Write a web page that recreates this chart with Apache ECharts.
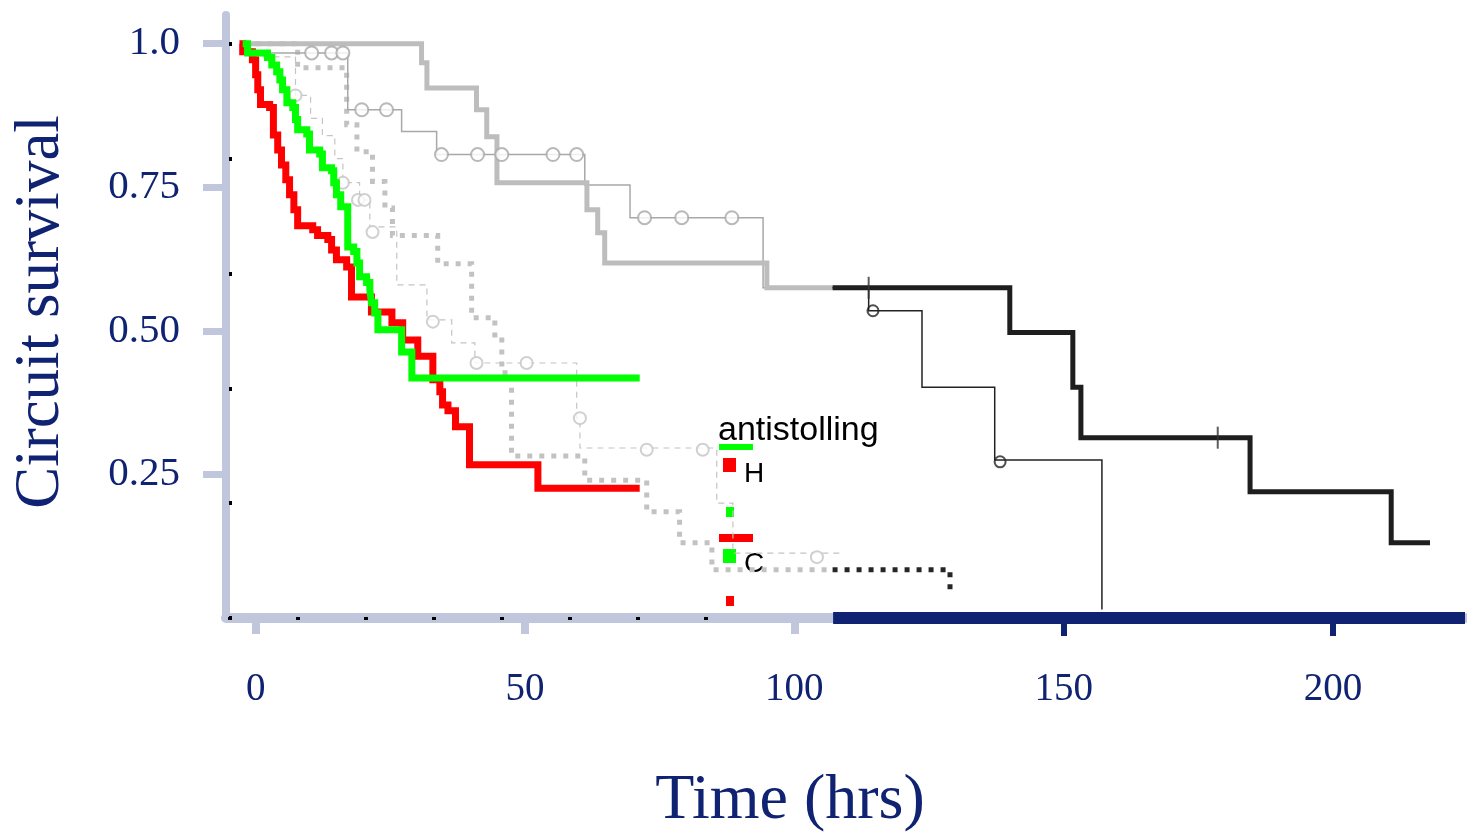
<!DOCTYPE html>
<html>
<head>
<meta charset="utf-8">
<script src="https://cdn.jsdelivr.net/npm/echarts@6.0.0/dist/echarts.min.js"></script>
<style>
  html, body { margin: 0; padding: 0; background: #fff; }
  #chart { width: 1467px; height: 834px; }
</style>
</head>
<body>
<div id="chart"></div>
<script>
// ticks
var xTickValues = [0, 50, 100, 150, 200];
var xLightTicks = [0, 50, 100];
var xNavyTicks = [150, 200];
var xBlackTicks = [-4.8, 7.8, 20.4, 33.1, 45.7, 58.3, 70.9, 83.6];
var yTickValues = [0.25, 0.5, 0.75, 1.0];
var yTickLabels = ['0.25', '0.50', '0.75', '1.0'];
var yBlackTicks = [0, 0.2, 0.4, 0.6, 0.8, 1.0];

// survival curves: [time (hrs), survival]
var red = [[-3, 1.0], [-2.4, 0.986], [-0.6, 0.972], [0, 0.946], [0.4, 0.92], [0.9, 0.894], [2.6, 0.889],
  [3.3, 0.841], [4.1, 0.815], [4.8, 0.789], [5.6, 0.763], [6.3, 0.737], [7.1, 0.711], [7.8, 0.683],
  [10.6, 0.676], [11.5, 0.666], [13.4, 0.659], [14.1, 0.641], [15, 0.624], [16.9, 0.611], [17.8, 0.559],
  [21.5, 0.533], [25.3, 0.514], [27.3, 0.484], [30.1, 0.456], [32.9, 0.415], [34.2, 0.394], [34.7, 0.371],
  [35.7, 0.361], [37.1, 0.333], [39.7, 0.267], [52.4, 0.226], [71.3, 0.226]];
var green = [[-2.4, 1.0], [-1.5, 0.984], [2.2, 0.976], [3.0, 0.963], [3.9, 0.951], [4.5, 0.937], [5.0, 0.92],
  [5.8, 0.897], [6.9, 0.889], [7.4, 0.868], [7.8, 0.85], [9.5, 0.843], [10.0, 0.815], [11.9, 0.808],
  [12.4, 0.784], [14.1, 0.779], [14.5, 0.758], [15.0, 0.737], [15.8, 0.716], [17.1, 0.646], [18.2, 0.638],
  [18.8, 0.618], [19.3, 0.594], [20.6, 0.584], [21.2, 0.571], [21.5, 0.549], [22.1, 0.531], [22.7, 0.502],
  [27.1, 0.463], [29.0, 0.418], [71.3, 0.418]];
var grayThick = [[-2.4, 1.0], [30.8, 0.967], [31.8, 0.923], [41.0, 0.885], [42.9, 0.838], [44.8, 0.758],
  [61.5, 0.711], [63.5, 0.671], [64.8, 0.618], [94.9, 0.575], [107.1, 0.575]];
var blackThick = [[107.1, 0.575], [140.0, 0.497], [151.7, 0.402], [153.2, 0.314], [184.6, 0.22],
  [210.8, 0.131], [218.0, 0.131]];
var grayThin = [[-2.4, 1.0], [-1.5, 0.984], [17.1, 0.885], [27.1, 0.847], [33.6, 0.807], [61.1, 0.754],
  [69.5, 0.697], [94.2, 0.575], [107.1, 0.575]];
var blackThin = [[107.1, 0.575], [113.8, 0.535], [123.7, 0.402], [137.2, 0.275], [157.1, 0.015]];
var grayDotted = [[0, 1.0], [7.8, 0.958], [16.9, 0.859], [18.8, 0.812], [21.7, 0.76], [24.0, 0.714],
  [25.4, 0.666], [33.8, 0.617], [40.1, 0.523], [44.4, 0.484], [45.7, 0.427], [47.5, 0.282], [61.1, 0.24],
  [72.6, 0.185], [78.7, 0.131], [84.7, 0.084], [107.1, 0.084]];
var blackDotted = [[107.1, 0.084], [128.9, 0.04]];
var grayDashed = [[-2.4, 1.0], [-1.1, 0.977], [7.4, 0.91], [10.2, 0.87], [12.4, 0.84], [14.7, 0.8],
  [16.2, 0.758], [19.3, 0.728], [21.2, 0.681], [26.2, 0.58], [31.8, 0.519], [36.4, 0.479], [40.7, 0.444],
  [59.6, 0.348], [60.2, 0.296], [85.6, 0.2], [88.6, 0.113], [108.4, 0.113]];

// censored marks
var grayThinCensor = [[10.4, 0.984], [14.1, 0.984], [16.2, 0.984], [19.7, 0.885], [24.3, 0.885],
  [34.5, 0.807], [41.2, 0.807], [45.7, 0.807], [55.2, 0.807], [59.6, 0.807],
  [72.2, 0.697], [79.1, 0.697], [88.4, 0.697]];
var grayDashedCensor = [[7.4, 0.91], [16.2, 0.758], [19.0, 0.728], [20.2, 0.728], [21.7, 0.672],
  [32.9, 0.516], [41.0, 0.444], [50.3, 0.444], [60.2, 0.348], [72.6, 0.293], [83.0, 0.293], [104.2, 0.106]];
var blackThinCensor = [[114.6, 0.535], [138.2, 0.272]];
var blackThickCensor = [[113.8, 0.575], [178.6, 0.314]];

var xMin = -5.5, xMax = 224.5, yMin = 0, yMax = 1.05;
var navyStart = 107.2;
var lightBlue = '#c0c6dc';
var navy = '#0f2372';

var chart = echarts.init(document.getElementById('chart'), null, { renderer: 'canvas' });

function stepLine(name, data, color, width, type, z) {
  return {
    name: name,
    type: 'line',
    step: 'end',
    data: data,
    symbol: 'none',
    showSymbol: false,
    z: z,
    lineStyle: { color: color, width: width, type: type || 'solid', cap: 'butt', join: 'miter' }
  };
}

function censor(name, data, color, size) {
  return {
    name: name,
    type: 'scatter',
    data: data,
    symbol: 'emptyCircle',
    symbolSize: size,
    z: 3,
    itemStyle: { color: color, borderColor: color, borderWidth: 1.3 }
  };
}

var blackThickSeries = stepLine('blackThick', blackThick, '#1e1e1e', 5, 'solid', 4);
blackThickSeries.clip = false;
blackThickSeries.markLine = {
  silent: true,
  symbol: ['none', 'none'],
  label: { show: false },
  lineStyle: { color: navy, width: 12, type: 'solid' },
  data: [[{ coord: [navyStart, 0] }, { coord: [xMax, 0] }]],
  z: 10
};

var option = {
  animation: false,
  backgroundColor: '#fff',
  grid: { left: 226, right: 2, top: 15, bottom: 216, containLabel: false },
  xAxis: [
    {
      type: 'value', min: xMin, max: xMax, position: 'bottom',
      axisLine: { show: true, onZero: false, lineStyle: { color: lightBlue, width: 10 } },
      axisTick: { show: true, customValues: xLightTicks, length: 16, lineStyle: { color: lightBlue, width: 8 } },
      axisLabel: {
        show: true, customValues: xTickValues, margin: 52,
        color: navy, fontFamily: 'Liberation Serif', fontSize: 39
      },
      splitLine: { show: false }
    },
    {
      type: 'value', min: xMin, max: xMax, position: 'bottom', offset: 0,
      axisLine: { show: false, onZero: false },
      axisTick: { show: true, customValues: xNavyTicks, length: 18, lineStyle: { color: navy, width: 6 } },
      axisLabel: { show: false },
      splitLine: { show: false }
    },
    {
      type: 'value', min: xMin, max: xMax, position: 'bottom', offset: 2,
      axisLine: { show: false, onZero: false },
      axisTick: { show: true, inside: true, customValues: xBlackTicks, length: 3, lineStyle: { color: '#000', width: 4 } },
      axisLabel: { show: false },
      splitLine: { show: false }
    }
  ],
  yAxis: [
    {
      type: 'value', min: yMin, max: yMax, position: 'left',
      axisLine: { show: true, onZero: false, lineStyle: { color: lightBlue, width: 8 } },
      axisTick: { show: true, customValues: yTickValues, length: 23, lineStyle: { color: lightBlue, width: 7 } },
      axisLabel: {
        show: true, customValues: yTickValues, margin: 46,
        color: navy, fontFamily: 'Liberation Serif', fontSize: 41,
        formatter: function (v) {
          for (var i = 0; i < yTickValues.length; i++) {
            if (Math.abs(yTickValues[i] - v) < 1e-6) return yTickLabels[i];
          }
          return '';
        }
      },
      splitLine: { show: false }
    },
    {
      type: 'value', min: yMin, max: yMax, position: 'left', offset: -3,
      axisLine: { show: false, onZero: false },
      axisTick: { show: true, inside: true, customValues: yBlackTicks, length: 3, lineStyle: { color: '#000', width: 4 } },
      axisLabel: { show: false },
      splitLine: { show: false }
    }
  ],
  series: [
    stepLine('grayDashed', grayDashed, '#c4c4c4', 1.2, [6, 5], 2),
    censor('grayDashedCensor', grayDashedCensor, '#c4c4c4', 12),
    stepLine('grayDotted', grayDotted, '#c2c2c2', 5, [5, 7], 2),
    stepLine('blackDotted', blackDotted, '#262626', 5, [5, 7], 2),
    stepLine('grayThin', grayThin, '#a8a8a8', 1.5, 'solid', 2),
    censor('grayThinCensor', grayThinCensor, '#a8a8a8', 13),
    stepLine('grayThick', grayThick, '#bdbdbd', 5, 'solid', 3),
    blackThickSeries,
    stepLine('blackThin', blackThin, '#222', 1.5, 'solid', 4),
    censor('blackThinCensor', blackThinCensor, '#222', 11),
    {
      name: 'blackThickCensor', type: 'scatter', data: blackThickCensor,
      symbol: 'rect', symbolSize: [2, 22], z: 4, itemStyle: { color: '#333' }
    },
    stepLine('red', red, '#ff0000', 7, 'solid', 5),
    stepLine('green', green, '#00ff00', 7, 'solid', 6)
  ],
  graphic: [
    {
      type: 'text', x: 41, y: 312, rotation: Math.PI / 2,
      style: { text: 'Circuit survival', fill: navy, font: '63px "Liberation Serif"', align: 'center', verticalAlign: 'middle' }
    },
    {
      type: 'text', x: 790, y: 801,
      style: { text: 'Time (hrs)', fill: navy, font: '64px "Liberation Serif"', align: 'center', verticalAlign: 'middle' }
    },
    {
      type: 'text', x: 718, y: 431,
      style: { text: 'antistolling', fill: '#000', font: '34px "Liberation Sans"', align: 'left', verticalAlign: 'middle' }
    },
    { type: 'rect', shape: { x: 719, y: 444, width: 34, height: 6 }, style: { fill: '#00ff00' } },
    { type: 'rect', shape: { x: 723, y: 458, width: 13, height: 14 }, style: { fill: '#ff0000' } },
    {
      type: 'text', x: 744, y: 474,
      style: { text: 'H', fill: '#000', font: '28px "Liberation Sans"', align: 'left', verticalAlign: 'middle' }
    },
    { type: 'rect', shape: { x: 726, y: 507, width: 8, height: 10 }, style: { fill: '#00ff00' } },
    { type: 'rect', shape: { x: 719, y: 534, width: 34, height: 8 }, style: { fill: '#ff0000' } },
    { type: 'rect', shape: { x: 723, y: 549, width: 13, height: 14 }, style: { fill: '#00ff00' } },
    {
      type: 'text', x: 744, y: 564,
      style: { text: 'C', fill: '#000', font: '28px "Liberation Sans"', align: 'left', verticalAlign: 'middle' }
    },
    { type: 'rect', shape: { x: 726, y: 596, width: 8, height: 10 }, style: { fill: '#ff0000' } }
  ]
};

chart.setOption(option);
</script>
</body>
</html>
